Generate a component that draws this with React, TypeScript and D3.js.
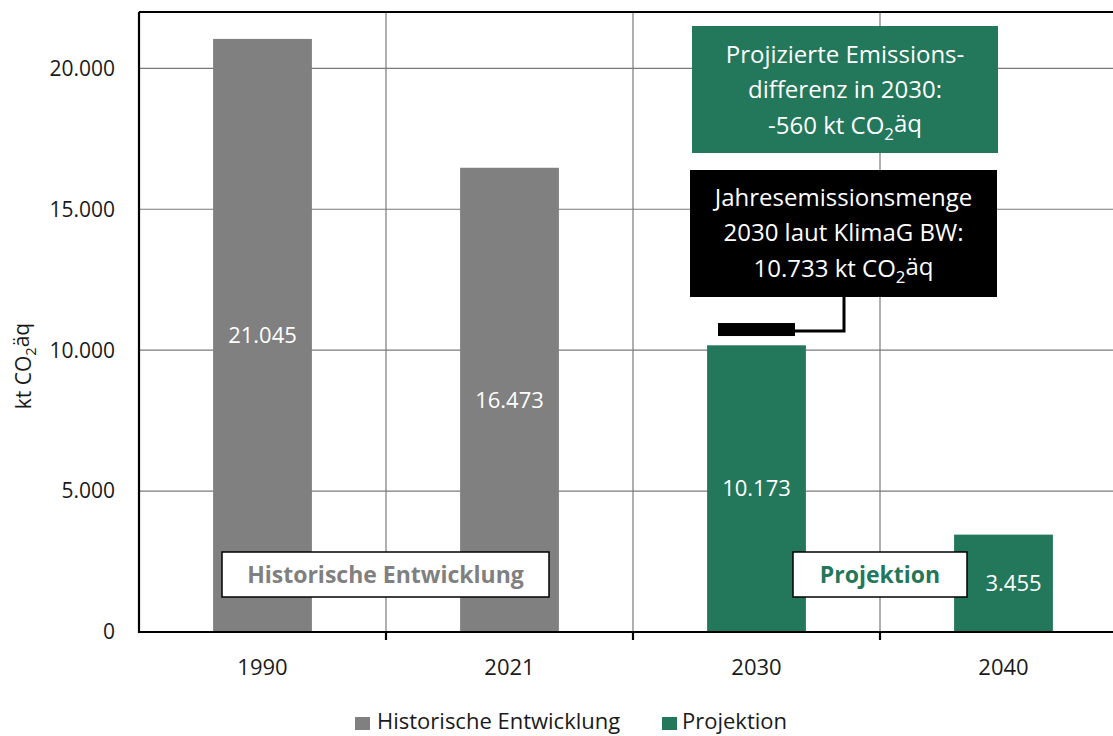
import * as d3 from "d3";
import React from "react";

// categories and values (kt CO2äq)
const years = ["1990", "2021", "2030", "2040"];
const emissions = [21045, 16473, 10173, 3455];
const seriesOf = ["hist", "hist", "proj", "proj"];
const target2030 = 10733;
const yTickValues = [0, 5000, 10000, 15000, 20000];

const colors: Record<string, string> = { hist: "#808080", proj: "#23775a" };
const font = "'Open Sans', sans-serif";

const fmt = (v: number) => d3.format(",")(v).replace(/,/g, ".");

export default function App() {
  const width = 1113;
  const height = 736;
  const marginLeft = 139;
  const plotRight = 1127; // plot area runs past the picture's right edge
  const marginTop = 12;
  const baseY = 632;

  const x = d3
    .scaleBand<string>()
    .domain(years)
    .range([marginLeft, plotRight])
    .paddingInner(0.6)
    .paddingOuter(0.3);
  const y = d3.scaleLinear().domain([0, 22000]).range([baseY, marginTop]);
  const step = x.step();
  const bw = x.bandwidth();
  const boundaries = years.slice(1).map((d) => (x(d) ?? 0) + bw / 2 - step / 2);

  const cx2030 = (x("2030") ?? 0) + bw / 2;
  const targetY = y(target2030);

  const co2 = (pre: string) => (
    <>
      {pre}CO<tspan fontSize="0.7em" dy="0.35em">2</tspan>
      <tspan dy="-0.35em">äq</tspan>
    </>
  );

  return (
    <svg
      width={width}
      height={height}
      style={{ position: "absolute", left: 0, top: 0, background: "#fff" }}
      fontFamily={font}
    >
      {/* gridlines */}
      <g stroke="#7a7a7a" strokeWidth={1.2}>
        {yTickValues.slice(1).map((v) => (
          <line key={v} x1={marginLeft} x2={width} y1={y(v)} y2={y(v)} />
        ))}
        {boundaries.map((b) => (
          <line key={b} x1={b} x2={b} y1={marginTop} y2={baseY} />
        ))}
      </g>

      {/* bars */}
      {emissions.map((v, i) => (
        <rect
          key={years[i]}
          x={x(years[i])}
          y={y(v)}
          width={bw}
          height={baseY - y(v)}
          fill={colors[seriesOf[i]]}
        />
      ))}

      {/* frame & axes */}
      <g stroke="#000" strokeWidth={2.2} fill="none">
        <line x1={marginLeft} x2={width} y1={marginTop} y2={marginTop} />
        <line x1={marginLeft} x2={marginLeft} y1={marginTop} y2={baseY + 1} />
        <line x1={marginLeft - 1} x2={width} y1={baseY} y2={baseY} />
        {boundaries.map((b) => (
          <line key={b} x1={b} x2={b} y1={baseY} y2={baseY + 8} />
        ))}
      </g>

      {/* y ticks */}
      <g fontSize={21} textAnchor="end" fill="#1a1a1a">
        {yTickValues.map((v) => (
          <text key={v} x={115} y={y(v)} dy="0.35em">
            {fmt(v)}
          </text>
        ))}
      </g>
      <text
        transform={`translate(31,366) rotate(-90)`}
        textAnchor="middle"
        fontSize={21}
        fill="#1a1a1a"
      >
        {co2("kt ")}
      </text>

      {/* x ticks */}
      <g fontSize={22} textAnchor="middle" fill="#1a1a1a">
        {years.map((d) => (
          <text key={d} x={(x(d) ?? 0) + bw / 2} y={667} dy="0.35em">
            {d}
          </text>
        ))}
      </g>

      {/* section labels */}
      <rect x={222} y={552} width={327} height={45} fill="#fff" stroke="#000" strokeWidth={1.5} />
      <text x={385.5} y={575} dy="0.35em" textAnchor="middle" fontSize={23} fontWeight="bold" fill={colors.hist}>
        Historische Entwicklung
      </text>
      <rect x={793} y={552} width={174} height={45} fill="#fff" stroke="#000" strokeWidth={1.5} />
      <text x={880} y={575} dy="0.35em" textAnchor="middle" fontSize={23} fontWeight="bold" fill={colors.proj}>
        Projektion
      </text>

      {/* value labels */}
      <g fontSize={22} fill="#fff" textAnchor="middle">
        {emissions.map((v, i) => (
          <text
            key={years[i]}
            x={(x(years[i]) ?? 0) + bw / 2 + (i === 3 ? 10 : 0)}
            y={(y(v) + baseY) / 2}
            dy="0.35em"
          >
            {fmt(v)}
          </text>
        ))}
      </g>

      {/* target marker for 2030 */}
      <rect x={cx2030 - 38.5} y={targetY - 6.5} width={77} height={13} fill="#000" />
      <path
        d={`M${cx2030 + 38} ${targetY + 1.5} H844 V297`}
        fill="none"
        stroke="#000"
        strokeWidth={3}
      />

      {/* annotation boxes */}
      <rect x={692} y={26} width={306} height={127} fill={colors.proj} />
      <g fontSize={24} fill="#fff" textAnchor="middle">
        <text x={845} y={55} dy="0.35em">Projizierte Emissions-</text>
        <text x={845} y={90} dy="0.35em">differenz in 2030:</text>
        <text x={845} y={126} dy="0.35em">{co2("-560 kt ")}</text>
      </g>
      <rect x={690} y={170} width={307} height={127} fill="#000" />
      <g fontSize={24} fill="#fff" textAnchor="middle">
        <text x={843.5} y={198} dy="0.35em">Jahresemissionsmenge</text>
        <text x={843.5} y={233} dy="0.35em">2030 laut KlimaG BW:</text>
        <text x={843.5} y={269} dy="0.35em">{co2("10.733 kt ")}</text>
      </g>

      {/* legend */}
      <g fontSize={22} fill="#1a1a1a">
        <rect x={355} y={717} width={15} height={13} fill={colors.hist} />
        <text x={377} y={729}>Historische Entwicklung</text>
        <rect x={662} y={717} width={15} height={13} fill={colors.proj} />
        <text x={682} y={729}>Projektion</text>
      </g>
    </svg>
  );
}
